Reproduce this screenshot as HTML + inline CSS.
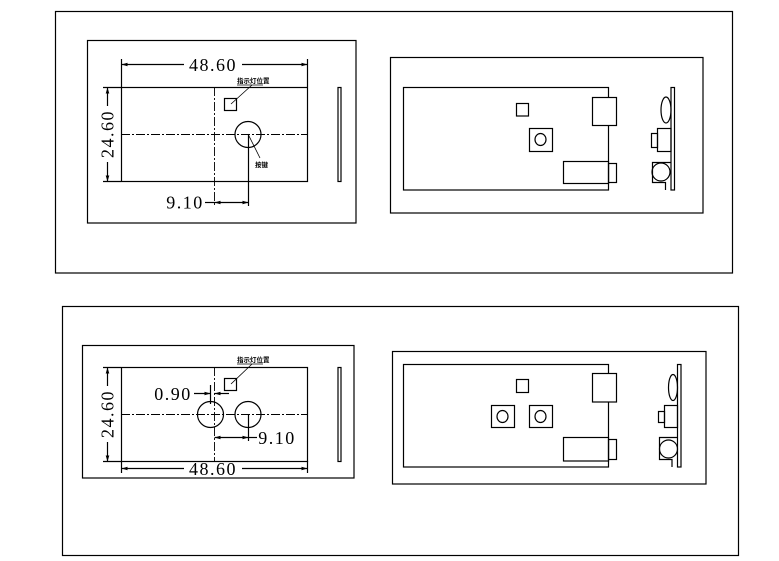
<!DOCTYPE html>
<html><head><meta charset="utf-8"><style>
html,body{margin:0;padding:0;background:#fff;}
svg{display:block;}
text{font-family:"Liberation Serif","Noto Serif CJK SC",serif;fill:#000;}
.cn{font-family:"Liberation Sans","Noto Sans CJK SC",sans-serif;font-size:6.5px;font-weight:bold;}
</style></head><body>
<svg width="779" height="561" viewBox="0 0 779 561" xmlns="http://www.w3.org/2000/svg">
<defs>
<marker id="a" viewBox="0 0 10 6" refX="10" refY="3" markerWidth="8" markerHeight="3" orient="auto-start-reverse"><path d="M0,0L10,3L0,6z" fill="#000"/></marker>
</defs>
<g fill="none" stroke="#000" stroke-width="1.2">
<rect x="55.5" y="11.5" width="677" height="261.5"/>
<rect x="62.5" y="306.5" width="676" height="249"/>

<!-- TOP LEFT -->
<rect x="87.5" y="40.5" width="268.5" height="182.5"/>
<rect x="121.5" y="87.5" width="186" height="94"/>
<rect x="338" y="87.5" width="3" height="94"/>
<line x1="214.5" y1="87" x2="214.5" y2="206" stroke-dasharray="9,2,2,2" stroke-width="0.9"/>
<line x1="121" y1="134.5" x2="308" y2="134.5" stroke-dasharray="9,2,2,2" stroke-width="0.9"/>
<rect x="224.5" y="98.5" width="12" height="12"/>
<circle cx="248" cy="134.5" r="13"/>
<line x1="231" y1="104" x2="252" y2="85" stroke-width="0.8"/>
<line x1="237" y1="85" x2="263" y2="85" stroke-width="0.8"/>
<line x1="248" y1="134" x2="260" y2="158" stroke-width="0.8"/>
<line x1="121.5" y1="59" x2="121.5" y2="87"/>
<line x1="307.5" y1="59" x2="307.5" y2="87"/>
<line x1="121.5" y1="64.5" x2="184" y2="64.5" marker-start="url(#a)"/>
<line x1="242" y1="64.5" x2="307.5" y2="64.5" marker-end="url(#a)"/>
<line x1="103" y1="87.5" x2="121" y2="87.5"/>
<line x1="103" y1="181.5" x2="121" y2="181.5"/>
<line x1="107.5" y1="87.5" x2="107.5" y2="106" marker-start="url(#a)"/>
<line x1="107.5" y1="162" x2="107.5" y2="181.5" marker-end="url(#a)"/>
<line x1="248.5" y1="134" x2="248.5" y2="206"/>
<line x1="205" y1="202.5" x2="214.5" y2="202.5"/>
<line x1="214.5" y1="202.5" x2="248.5" y2="202.5" marker-start="url(#a)" marker-end="url(#a)"/>

<!-- TOP RIGHT -->
<rect x="390.5" y="57.5" width="312.5" height="155.5"/>
<rect x="403.5" y="87.5" width="205" height="102.5"/>
<rect x="516.5" y="103.5" width="12" height="12.5"/>
<rect x="529.5" y="128.5" width="23" height="23"/>
<ellipse cx="540.5" cy="139.5" rx="5.5" ry="6"/>
<rect x="592.5" y="97.5" width="24" height="28" fill="#fff"/>
<rect x="563.5" y="161.5" width="45" height="22" fill="#fff"/>
<rect x="608.5" y="163.5" width="8" height="19"/>
<rect x="671" y="87.5" width="3.5" height="102.5"/>
<ellipse cx="666" cy="110" rx="5" ry="13"/>
<rect x="657.5" y="128.5" width="13.5" height="23"/>
<rect x="651.5" y="133.5" width="6" height="14"/>
<path d="M671,162.5H652.5V182.5H665.5V190"/>
<circle cx="661" cy="172" r="9"/>

<!-- BOTTOM LEFT -->
<rect x="82.5" y="345.5" width="271.5" height="132.5"/>
<rect x="121.5" y="367.5" width="186" height="94"/>
<rect x="338" y="367.5" width="3" height="94"/>
<line x1="214.5" y1="367" x2="214.5" y2="462" stroke-dasharray="9,2,2,2" stroke-width="0.9"/>
<line x1="121" y1="414.5" x2="308" y2="414.5" stroke-dasharray="9,2,2,2" stroke-width="0.9"/>
<rect x="224.5" y="378.5" width="12" height="12"/>
<circle cx="210.5" cy="414.5" r="13"/>
<circle cx="248" cy="414.5" r="13"/>
<line x1="231" y1="384" x2="252" y2="364" stroke-width="0.8"/>
<line x1="237" y1="364" x2="263" y2="364" stroke-width="0.8"/>
<line x1="103" y1="367.5" x2="121" y2="367.5"/>
<line x1="103" y1="461.5" x2="121" y2="461.5"/>
<line x1="107.5" y1="367.5" x2="107.5" y2="386" marker-start="url(#a)"/>
<line x1="107.5" y1="442" x2="107.5" y2="461.5" marker-end="url(#a)"/>
<line x1="121.5" y1="461" x2="121.5" y2="473"/>
<line x1="307.5" y1="461" x2="307.5" y2="473"/>
<line x1="121.5" y1="468.5" x2="184" y2="468.5" marker-start="url(#a)"/>
<line x1="242" y1="468.5" x2="307.5" y2="468.5" marker-end="url(#a)"/>
<line x1="210.5" y1="385" x2="210.5" y2="404"/>
<line x1="194" y1="393.5" x2="210.5" y2="393.5" marker-end="url(#a)"/>
<line x1="229" y1="393.5" x2="214.5" y2="393.5" marker-end="url(#a)"/>
<line x1="248.5" y1="414" x2="248.5" y2="441"/>
<line x1="214.5" y1="437.5" x2="248.5" y2="437.5" marker-start="url(#a)" marker-end="url(#a)"/>
<line x1="248.5" y1="437.5" x2="257" y2="437.5"/>

<!-- BOTTOM RIGHT -->
<rect x="392.5" y="351.5" width="313.5" height="132.5"/>
<rect x="403.5" y="364.5" width="205" height="102.5"/>
<rect x="516.5" y="379.5" width="12" height="13"/>
<rect x="491.5" y="405.5" width="23" height="22"/>
<ellipse cx="502.5" cy="416.5" rx="5.5" ry="6"/>
<rect x="529.5" y="405.5" width="23" height="22"/>
<ellipse cx="540.5" cy="416.5" rx="5.5" ry="6"/>
<rect x="592.5" y="373.5" width="24" height="28.5" fill="#fff"/>
<rect x="563.5" y="437.5" width="45" height="23.5" fill="#fff"/>
<rect x="608.5" y="439.5" width="8" height="20"/>
<rect x="677.5" y="364.5" width="3.5" height="102.5"/>
<ellipse cx="673" cy="387.5" rx="4.5" ry="13"/>
<rect x="664.5" y="405.5" width="13" height="22"/>
<rect x="658.5" y="411.5" width="6" height="11"/>
<path d="M677.5,437.5H659.5V459.5H672V467"/>
<circle cx="668.5" cy="449" r="9"/>
</g>

<text x="213" y="71" font-size="18" text-anchor="middle" letter-spacing="1.5">48.60</text>
<text x="185" y="208.5" font-size="18" text-anchor="middle" letter-spacing="1.5">9.10</text>
<text transform="translate(113.5,134) rotate(-90)" font-size="18" text-anchor="middle" letter-spacing="1.5">24.60</text>
<text class="cn" x="237" y="83">指示灯位置</text>
<text class="cn" x="255" y="167">按键</text>

<text transform="translate(113.5,414) rotate(-90)" font-size="18" text-anchor="middle" letter-spacing="1.5">24.60</text>
<text x="213" y="475" font-size="18" text-anchor="middle" letter-spacing="1.5">48.60</text>
<text x="173" y="400" font-size="18" text-anchor="middle" letter-spacing="1.5">0.90</text>
<text x="277" y="444" font-size="18" text-anchor="middle" letter-spacing="1.5">9.10</text>
<text class="cn" x="237" y="362">指示灯位置</text>
</svg>
</body></html>
